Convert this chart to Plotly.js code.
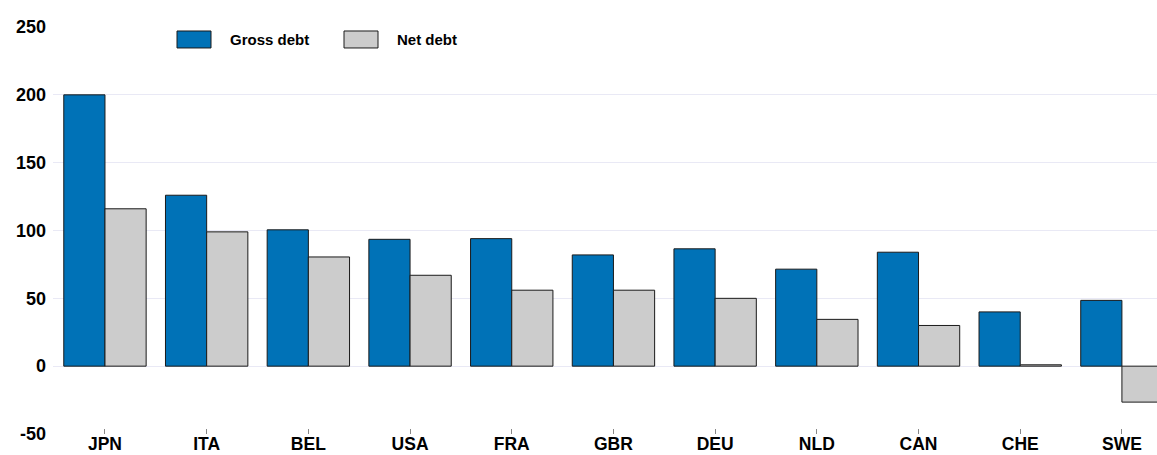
<!DOCTYPE html>
<html>
<head>
<meta charset="utf-8">
<script src="https://cdn.plot.ly/plotly-3.0.1.min.js"></script>
<style>html,body{margin:0;padding:0;background:#fff;}#chart{width:1157px;height:455px;}</style>
</head>
<body>
<div id="chart"></div>
<script>
var countries = ['JPN','ITA','BEL','USA','FRA','GBR','DEU','NLD','CAN','CHE','SWE'];
var grossDebt = [200, 126, 100.5, 93.5, 94, 82, 86.5, 71.5, 84, 40, 48.5];
var netDebt = [116, 99, 80.5, 67, 56, 56, 50, 34.5, 30, 1, -26.5];
var seriesNames = ['Gross debt', 'Net debt'];
var yTicks = [-50, 0, 50, 100, 150, 200, 250];

var W = 1157, H = 455;
var mL = 53, mR = 0, mT = 27, mB = 20.5;
var pw = W - mL - mR, ph = H - mT - mB;
function px(x){ return (x - mL) / pw; }
function py(y){ return (H - mB - y) / ph; }

var traces = [
  {type:'bar', name: seriesNames[0], x: countries, y: grossDebt,
   marker:{color:'#0072b7', line:{color:'#1a1a1a', width:1}}, showlegend:false, hoverinfo:'x+y'},
  {type:'bar', name: seriesNames[1], x: countries, y: netDebt,
   marker:{color:'#cccccc', line:{color:'#1a1a1a', width:1}}, showlegend:false, hoverinfo:'x+y'}
];

var legendItems = [
  {name: seriesNames[0], color:'#0072b7', x0:177, x1:211, tx:228},
  {name: seriesNames[1], color:'#cccccc', x0:344, x1:378, tx:395}
];
var shapes = [], annotations = [];
legendItems.forEach(function(it){
  shapes.push({type:'rect', xref:'paper', yref:'paper', x0:px(it.x0), x1:px(it.x1), y0:py(48), y1:py(31),
    fillcolor:it.color, line:{color:'#1a1a1a', width:1}});
  annotations.push({xref:'paper', yref:'paper', x:px(it.tx), y:py(40), xanchor:'left', yanchor:'middle',
    text:it.name, showarrow:false, font:{family:'Liberation Sans, Arial, sans-serif', size:15, color:'#000', weight:'bold'}});
});

var layout = {
  width: W, height: H,
  margin:{l:mL, r:mR, t:mT, b:mB, pad:0},
  paper_bgcolor:'#fff', plot_bgcolor:'#fff',
  barmode:'group', bargap:0.19, bargroupgap:0,
  font:{family:'Liberation Sans, Arial, sans-serif', color:'#000'},
  xaxis:{type:'category', range:[-0.511, 10.345], showgrid:false, zeroline:false, showline:false,
    ticks:'inside', ticklen:5, tickcolor:'#888', tickwidth:1, ticklabelstandoff:-3,
    tickfont:{size:17.5, weight:'bold', color:'#000'}, fixedrange:true},
  yaxis:{range:[-50, 250], tickvals:yTicks, ticktext: yTicks.map(String), showgrid:true, gridcolor:'#e9e9f5', gridwidth:1,
    zeroline:true, zerolinecolor:'#e9e9f5', zerolinewidth:1, showline:false, ticks:'',
    ticklabelstandoff:6,
    tickfont:{size:18, weight:'bold', color:'#000'}, fixedrange:true},
  shapes: shapes,
  annotations: annotations
};

Plotly.newPlot('chart', traces, layout, {displayModeBar:false, staticPlot:true});
</script>
</body>
</html>
